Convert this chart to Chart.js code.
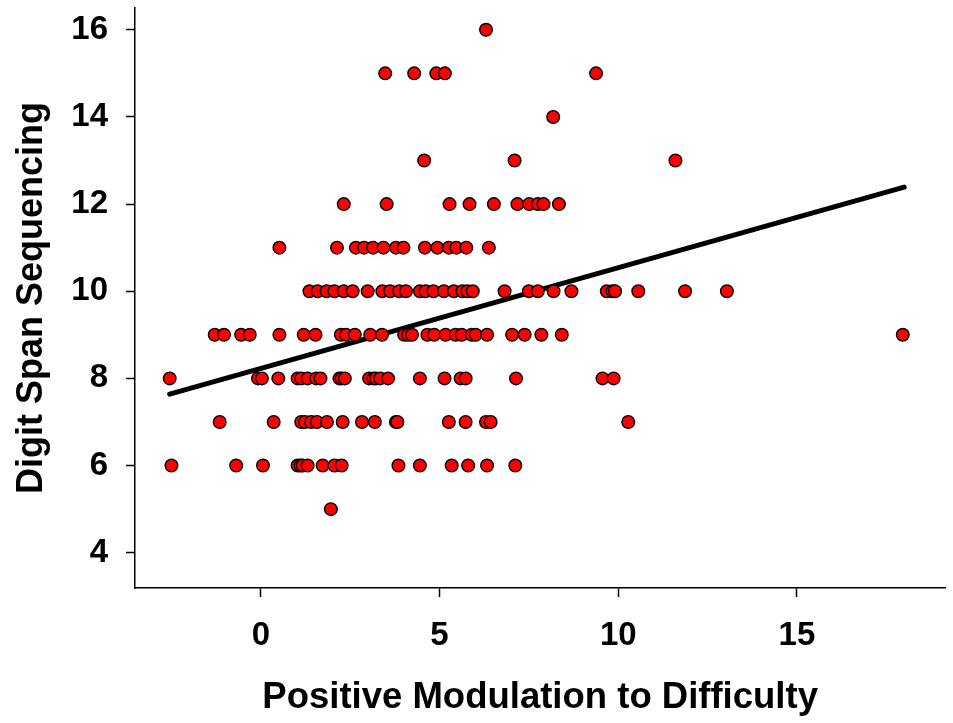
<!DOCTYPE html>
<html>
<head>
<meta charset="utf-8">
<script src="https://cdn.jsdelivr.net/npm/chart.js@4.4.1/dist/chart.umd.min.js"></script>
<style>
  html, body { margin: 0; padding: 0; background: #fff; }
  canvas { display: block; }
</style>
</head>
<body>
<canvas id="scatterChart" width="953" height="723"></canvas>
<script>
// x values (Positive Modulation to Difficulty) grouped by Digit Span score
const row16 = [6.30];
const row15 = [3.48, 4.29, 4.91, 5.15, 9.38];
const row14 = [8.18];
const row13 = [4.57, 7.10, 11.60];
const row12 = [2.32, 3.52, 5.28, 5.84, 6.52, 7.18, 7.51, 7.75, 7.91, 8.34];
const row11 = [0.52, 2.13, 2.66, 2.89, 3.14, 3.43, 3.78, 3.99, 4.59, 4.94, 5.26, 5.47, 5.75, 6.38];
const row10 = [1.36, 1.59, 1.84, 2.06, 2.32, 2.57, 2.99, 3.40, 3.62, 3.87, 4.06, 4.45, 4.61, 4.83,
  5.12, 5.40, 5.64, 5.78, 5.93, 6.82, 7.50, 7.75, 8.19, 8.69, 9.68, 9.84, 9.91, 10.56, 11.87, 13.04];
const row9 = [-1.29, -1.03, -0.55, -0.31, 0.52, 1.20, 1.53, 2.24, 2.38, 2.63, 3.06, 3.39, 4.01, 4.12,
  4.23, 4.66, 4.85, 5.17, 5.45, 5.62, 5.90, 6.01, 6.33, 7.03, 7.38, 7.85, 8.42, 17.96];
const row8 = [-2.55, -0.08, 0.03, 0.49, 1.03, 1.13, 1.31, 1.55, 1.67, 2.20, 2.26, 2.35, 3.03, 3.15,
  3.22, 3.34, 3.56, 4.45, 5.14, 5.59, 5.73, 7.14, 9.56, 9.87];
const row7 = [-1.15, 0.36, 1.13, 1.24, 1.41, 1.57, 1.85, 2.29, 2.83, 3.19, 3.78, 3.82, 5.26, 5.73,
  6.30, 6.43, 10.28];
const row6 = [-2.50, -0.69, 0.06, 1.03, 1.11, 1.17, 1.31, 1.73, 2.06, 2.26, 3.85, 4.45, 5.34, 5.80,
  6.33, 7.12];
const row5 = [1.96];

const spanScores = [16, 15, 14, 13, 12, 11, 10, 9, 8, 7, 6, 5];
const rows = [row16, row15, row14, row13, row12, row11, row10, row9, row8, row7, row6, row5];

// fitted line end points
const fitX = [-2.55, 18.0];
const fitY = [7.64, 12.39];

const xTicks = [0, 5, 10, 15];
const yTicks = [4, 6, 8, 10, 12, 14, 16];

const points = [];
rows.forEach((r, i) => {
  r.forEach(x => points.push({ x: x, y: spanScores[i] }));
});
const fitLine = fitX.map((x, i) => ({ x: x, y: fitY[i] }));

const fontFamily = '"Liberation Sans", Arial, Helvetica, sans-serif';

function trimAxis(scale) {
  scale.paddingTop = 0;
  scale.paddingBottom = 0;
  scale.paddingLeft = 0;
  scale.paddingRight = 0;
}

const ctx = document.getElementById('scatterChart').getContext('2d');
new Chart(ctx, {
  type: 'scatter',
  data: {
    datasets: [
      {
        label: 'Subjects',
        data: points,
        backgroundColor: '#ff0000',
        borderColor: '#000000',
        borderWidth: 1.4,
        pointRadius: 6.3,
        pointHoverRadius: 6.3
      },
      {
        type: 'line',
        label: 'Fit',
        data: fitLine,
        borderColor: '#000000',
        borderWidth: 5,
        borderCapStyle: 'round',
        pointRadius: 0,
        fill: false
      }
    ]
  },
  options: {
    responsive: false,
    animation: false,
    layout: { padding: { top: 8, right: 5, left: 0, bottom: 0 } },
    plugins: {
      legend: { display: false },
      tooltip: { enabled: false }
    },
    scales: {
      x: {
        type: 'linear',
        min: -3.52,
        max: 19.15,
        afterBuildTicks: s => { s.ticks = xTicks.map(v => ({ value: v })); },
        afterFit: s => { s.height = 135; trimAxis(s); },
        grid: {
          drawOnChartArea: false,
          drawTicks: true,
          tickLength: 9,
          tickColor: '#000',
          tickWidth: 1.5
        },
        border: { display: true, color: '#000', width: 1.5 },
        ticks: {
          color: '#000',
          padding: 19,
          maxRotation: 0,
          font: { family: fontFamily, size: 33, weight: 'bold' }
        },
        title: {
          display: true,
          text: 'Positive Modulation to Difficulty',
          color: '#000',
          align: 'center',
          padding: { top: 0, bottom: 3 },
          font: { family: fontFamily, size: 36.5, weight: 'bold' }
        }
      },
      y: {
        type: 'linear',
        min: 3.19,
        max: 16.5,
        afterBuildTicks: s => { s.ticks = yTicks.map(v => ({ value: v })); },
        afterFit: s => { s.width = 135; trimAxis(s); },
        grid: {
          drawOnChartArea: false,
          drawTicks: true,
          tickLength: 9,
          tickColor: '#000',
          tickWidth: 1.5
        },
        border: { display: true, color: '#000', width: 1.5 },
        ticks: {
          color: '#000',
          padding: 18,
          font: { family: fontFamily, size: 33, weight: 'bold' }
        },
        title: {
          display: true,
          text: 'Digit Span Sequencing',
          color: '#000',
          padding: { top: 10, bottom: 0 },
          font: { family: fontFamily, size: 36, weight: 'bold' }
        }
      }
    }
  }
});
</script>
</body>
</html>
